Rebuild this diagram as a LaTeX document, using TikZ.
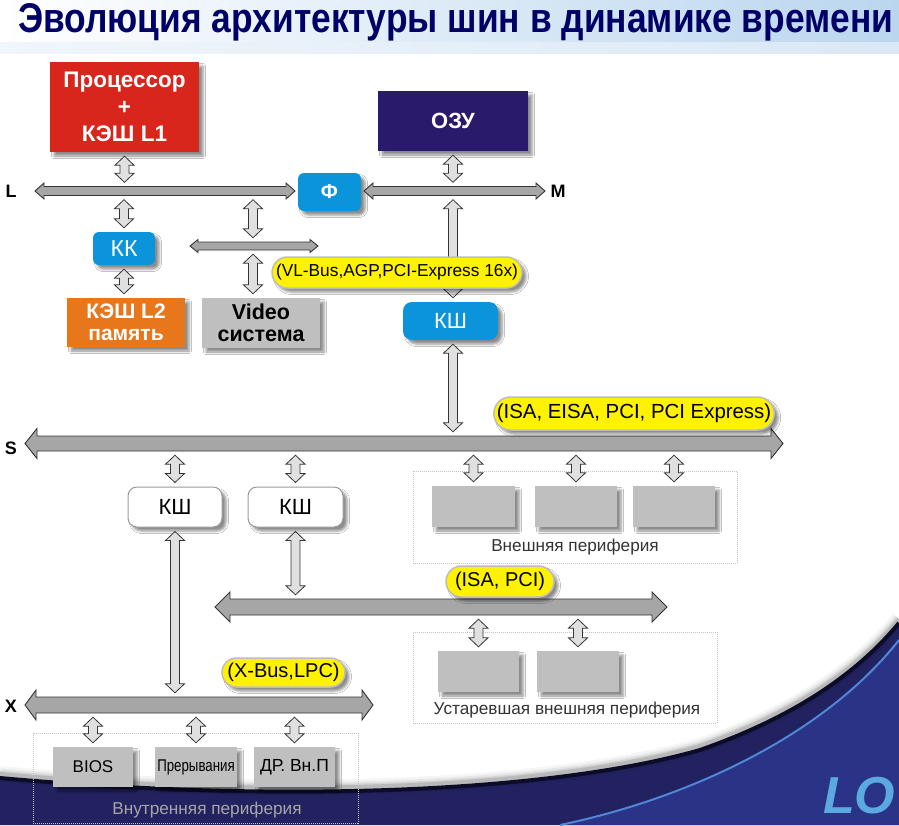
\documentclass[tikz,border=0pt]{standalone}
\usepackage{fontspec}
\setmainfont{Liberation Sans}
\usetikzlibrary{shadows.blur,calc,shapes.misc}
\definecolor{procred}{HTML}{D8261C}
\definecolor{ozunavy}{HTML}{2A1A6C}
\definecolor{kblue}{HTML}{0B94D9}
\definecolor{korange}{HTML}{E8761B}
\definecolor{boxgray}{HTML}{BFBFBF}
\definecolor{busfill}{HTML}{A6A6A6}
\definecolor{busline}{HTML}{353535}
\definecolor{linkfill}{HTML}{E0E0E0}
\definecolor{pillgray}{HTML}{BDBDBD}
\definecolor{titlenavy}{HTML}{000066}
\definecolor{titleblue}{HTML}{BAD6EE}
\definecolor{stripblue}{HTML}{DAE8F5}
\definecolor{navyA}{HTML}{222260}
\definecolor{navyB}{HTML}{2A3385}
\definecolor{edgedark}{HTML}{0C0C28}
\definecolor{lightline}{HTML}{4F86D8}
\definecolor{logoblue}{HTML}{5AA9E0}
\definecolor{framegray}{HTML}{C4C4C4}
\definecolor{kshborder}{HTML}{9A9A9A}

\tikzset{
  sh/.style={blur shadow={shadow xshift=4pt,shadow yshift=-4pt,shadow blur radius=2.5pt,shadow opacity=45}},
  blk/.style={inner sep=0pt,align=center,sh},
  solidbox/.style={blk,rectangle,fill=#1},
  bluebox/.style={blk,rounded corners=6pt,fill=kblue,text=white},
  whitebox/.style={blk,rounded corners=9pt,fill=white,draw=kshborder,line width=1pt},
  graybox/.style={blk,rectangle,fill=boxgray},
  pill/.style={blk,rounded rectangle,fill=yellow,draw=pillgray,line width=1.5pt,text=black},
  bus/.style={fill=busfill,draw=busline,line width=0.9pt,line join=miter},
  link/.style={fill=linkfill,draw=busline,line width=0.8pt,line join=miter},
  frame/.style={draw=framegray,densely dotted,line width=1pt,inner sep=0pt},
  buslabel/.style={font=\fontsize{18}{20}\selectfont\bfseries,inner sep=0pt},
  perlabel/.style={font=\fontsize{17.2}{20}\selectfont,inner sep=0pt,text=black!80},
}

% horizontal double-headed bus: name, x1, x2, y, shaft half, head half, head length
\newcommand\hbus[7]{%
  \filldraw[bus] (#2,#4) -- ({#2+#7},{#4-#6}) -- ({#2+#7},{#4-#5}) -- ({#3-#7},{#4-#5}) -- ({#3-#7},{#4-#6}) -- (#3,#4) -- ({#3-#7},{#4+#6}) -- ({#3-#7},{#4+#5}) -- ({#2+#7},{#4+#5}) -- ({#2+#7},{#4+#6}) -- cycle;
  \node[inner sep=0pt,minimum width={#3-#2},minimum height={2*#5}] (#1) at ({(#2+#3)/2},#4) {};}

% vertical double-headed link from top point to bottom point
\newcommand\vlink[2]{%
  \filldraw[link] let \p1=#1, \p2=#2 in
   (\x1,{\y1-4pt}) -- ({\x1+9.5pt},{\y1-13pt}) -- ({\x1+4.5pt},{\y1-13pt}) -- ({\x1+4.5pt},{\y2+13pt}) -- ({\x1+9.5pt},{\y2+13pt}) -- (\x1,{\y2+4pt}) -- ({\x1-9.5pt},{\y2+13pt}) -- ({\x1-4.5pt},{\y2+13pt}) -- ({\x1-4.5pt},{\y1-13pt}) -- ({\x1-9.5pt},{\y1-13pt}) -- cycle;}

\begin{document}
\begin{tikzpicture}[x=1pt,y=-1pt]
\useasboundingbox (0,0) rectangle (899,825);
\fill[white] (0,0) rectangle (899,825);

% ---- background template ----
\shade[left color=white,right color=titleblue] (0,0) rectangle (899,42);
\shade[left color=white!60!stripblue,right color=stripblue] (0,42) rectangle (899,53);

\fill[navyA] (0,778) .. controls (300,805) and (560,790) .. (700,750) .. controls (800,715) and (860,670) .. (899,623) -- (899,825) -- (0,825) -- cycle;
\fill[navyB] (560,825) .. controls (680,800) and (820,740) .. (899,640) -- (899,825) -- cycle;
\draw[lightline,line width=2pt] (560,825) .. controls (680,800) and (820,740) .. (899,640);
\foreach \w/\o in {16/0.04,11/0.06,7/0.08,4/0.12} {
  \draw[black,opacity=\o,line width=\w pt] (0,774) .. controls (300,801) and (560,786) .. (700,746) .. controls (800,711) and (860,666) .. (899,619);
}
\draw[edgedark,line width=4pt] (0,778) .. controls (300,805) and (560,790) .. (700,750) .. controls (800,715) and (860,670) .. (899,623);

\node[anchor=base west,inner sep=0pt,text=logoblue,font=\fontsize{52}{60}\selectfont\bfseries\itshape] (logo) at (823,813) {LO};

% ---- title ----
\node[anchor=base west,inner sep=0pt,text=titlenavy] (title) at (18,32)
  {\resizebox{875pt}{29pt}{\bfseries Эволюция архитектуры шин в динамике времени}};

% ---- top boxes ----
\node[solidbox=procred,text=white,minimum width=149,minimum height=90,font=\fontsize{22.5}{27}\selectfont\bfseries] (proc) at (124.5,107) {Процессор\\+\\КЭШ L1};
\node[solidbox=ozunavy,text=white,minimum width=150,minimum height=60,font=\fontsize{22}{24}\selectfont\bfseries] (ozu) at (453,121) {ОЗУ};
\node[bluebox,minimum width=63,minimum height=38,font=\fontsize{20}{22}\selectfont\bfseries] (phi) at (329.5,192) {Ф};
\node[bluebox,minimum width=62,minimum height=33,font=\fontsize{23}{25}\selectfont] (kk) at (124,248.5) {КК};
\node[solidbox=korange,text=white,minimum width=118,minimum height=49,font=\fontsize{21}{22.5}\selectfont\bfseries] (kl2) at (126,322.5) {КЭШ L2\\память};
\node[solidbox=boxgray,text=black,minimum width=118,minimum height=50,font=\fontsize{21.5}{22.5}\selectfont\bfseries] (video) at (261,323) {Video\\система};
\node[bluebox,rounded corners=9pt,minimum width=95,minimum height=38,font=\fontsize{22}{24}\selectfont] (ksh0) at (450.5,321) {КШ};

% ---- buses ----
\hbus{Lbus}{35}{295}{191}{4.5}{8}{9}
\hbus{Mbus}{364}{545}{191}{4.5}{8}{9}
\hbus{vbus}{190}{318}{246}{4}{6.5}{8}
\hbus{Sbus}{25}{783}{443.5}{7.5}{15}{12}
\hbus{Ibus}{215}{667}{607}{8}{15}{15}
\hbus{Xbus}{25}{373}{705}{8}{15}{11}

\node[buslabel] (lL) at (11,191) {L};
\node[buslabel] (lM) at (558,191) {M};
\node[buslabel] (lS) at (11,448) {S};
\node[buslabel] (lX) at (11,706) {X};

\coordinate (vx) at (253,0);

% ---- links (upper part) ----
\vlink{(proc.south)}{(proc.south |- Lbus.north)}
\vlink{(kk.north |- Lbus.south)}{(kk.north)}
\vlink{(kk.south)}{(kk.south |- kl2.north)}
\vlink{(vx |- Lbus.south)}{(vx |- vbus.north)}
\vlink{(vx |- vbus.south)}{(vx |- video.north)}
\vlink{(ozu.south)}{(ozu.south |- Mbus.north)}
\vlink{(ozu.south |- Mbus.south)}{(ozu.south |- ksh0.north)}
\vlink{(ozu.south |- ksh0.south)}{(ozu.south |- Sbus.north)}

\node[pill,minimum width=250,minimum height=31,font=\fontsize{17.3}{20}\selectfont] (vlab) at (397,272.5) {(VL-Bus,AGP,PCI-Express 16x)};
\node[pill,minimum width=278,minimum height=33,font=\fontsize{20.4}{22}\selectfont] (isalab) at (634,413.5) {(ISA, EISA, PCI, PCI Express)};

% ---- S level ----
\node[whitebox,minimum width=94,minimum height=40,font=\fontsize{22}{24}\selectfont] (ksh1) at (175,507) {КШ};
\node[whitebox,minimum width=95,minimum height=40,font=\fontsize{22}{24}\selectfont] (ksh2) at (295.5,507) {КШ};

\node[frame,minimum width=324,minimum height=92] (extframe) at (575,517) {};
\node[graybox,minimum width=83,minimum height=41] (e1) at (473.5,506.5) {};
\node[graybox,minimum width=82,minimum height=41] (e2) at (576,506.5) {};
\node[graybox,minimum width=82,minimum height=41] (e3) at (674,506.5) {};
\node[perlabel] (extlab) at (575,547) {Внешняя периферия};

\vlink{(ksh1.north |- Sbus.south)}{(ksh1.north)}
\vlink{(ksh2.north |- Sbus.south)}{(ksh2.north)}
\vlink{(e1.north |- Sbus.south)}{(e1.north)}
\vlink{(e2.north |- Sbus.south)}{(e2.north)}
\vlink{(e3.north |- Sbus.south)}{(e3.north)}

\vlink{(ksh1.south)}{(ksh1.south |- Xbus.north)}
\vlink{(ksh2.south)}{(ksh2.south |- Ibus.north)}

\node[pill,minimum width=108,minimum height=31,font=\fontsize{20}{22}\selectfont] (isapci) at (500,581.5) {(ISA, PCI)};

% ---- old periphery ----
\node[frame,minimum width=304,minimum height=91] (oldframe) at (565,677.5) {};
\node[graybox,minimum width=81,minimum height=41] (o1) at (478.5,671.5) {};
\node[graybox,minimum width=82,minimum height=41] (o2) at (578,671.5) {};
\node[perlabel] (oldlab) at (567,710) {Устаревшая внешняя периферия};
\vlink{(o1.north |- Ibus.south)}{(o1.north)}
\vlink{(o2.north |- Ibus.south)}{(o2.north)}

% ---- X level ----
\node[pill,minimum width=123,minimum height=29,font=\fontsize{20}{22}\selectfont] (xlab) at (283.5,672.5) {(X-Bus,LPC)};
\node[frame,minimum width=325,minimum height=90] (intframe) at (195.5,778) {};
\node[graybox,minimum width=80,minimum height=40,font=\fontsize{17}{20}\selectfont] (bios) at (93,767) {BIOS};
\node[graybox,minimum width=82,minimum height=40,font=\fontsize{17}{20}\selectfont] (irq) at (196,767) {\scalebox{0.78}[1]{Прерывания}};
\node[graybox,minimum width=81,minimum height=40,font=\fontsize{17.5}{20}\selectfont] (drv) at (294.5,767) {ДР. Вн.П};
\node[perlabel,text=black!35] (intlab) at (207,810) {Внутренняя периферия};
\vlink{(bios.north |- Xbus.south)}{(bios.north)}
\vlink{(irq.north |- Xbus.south)}{(irq.north)}
\vlink{(drv.north |- Xbus.south)}{(drv.north)}

\end{tikzpicture}
\end{document}
